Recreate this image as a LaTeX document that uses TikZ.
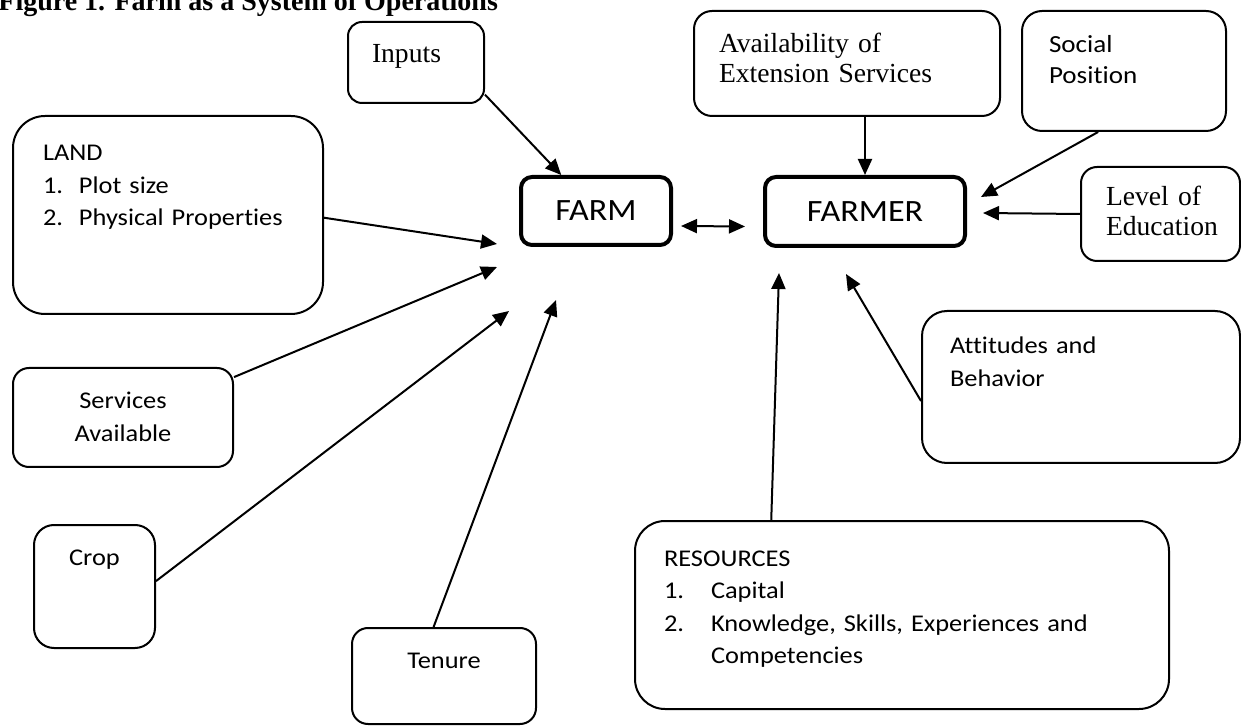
\documentclass[tikz,border=0pt]{standalone}
\usepackage{fontspec}
\setmainfont{Liberation Serif}
\setsansfont{Carlito}[FakeStretch=1.1, Ligatures=NoCommon]
\usetikzlibrary{arrows.meta}
\tikzstyle{block} = [ rectangle, draw, line width=1pt, anchor=north west, inner ysep=0pt, align=left, font=\sffamily\fontsize{12}{16.25}\selectfont]
\tikzstyle{serif} = [ font=\rmfamily\fontsize{13.8}{15}\selectfont]
\tikzstyle{core} = [ rectangle, draw, line width=2pt, rounded corners=5.5pt, inner sep=0pt, font=\sffamily\fontsize{15.5}{18}\selectfont]
\tikzstyle{line} = [ draw, line width=1pt, -{Triangle[length=8pt,width=7pt]}]

\begin{document}
\begin{tikzpicture}[x=0.5pt, y=-0.5pt]
  \useasboundingbox (0,0) rectangle (1241,726);
  \node [anchor=base west, inner sep=0pt, font=\rmfamily\bfseries\fontsize{14}{16}\selectfont] (title) at (-2,10.5) {Figure 1. Farm as a System of Operations};

  \node [core, minimum width=75pt, minimum height=34pt] (farm) at (596,211) {FARM};
  \node [core, minimum width=100pt, minimum height=34.5pt] (farmer) at (865,211.5) {FARMER};

  \node [block, serif, rounded corners=7pt, inner xsep=12pt, text width=44pt, text height=20.5pt, text depth=20pt] (inputs) at (347,21) {Inputs};
  \node [block, rounded corners=16pt, inner xsep=15pt, text width=125pt, text height=22.5pt, text depth=76.5pt] (land) at (12,115) {LAND\\ \makebox[18pt][l]{1.}Plot size\\ \makebox[18pt][l]{2.}Physical Properties};
  \node [block, align=center, rounded corners=8pt, inner xsep=10pt, text width=90pt, text height=20.5pt, text depth=29pt] (services) at (12,367) {Services\\ Available};
  \node [block, align=center, rounded corners=10pt, inner xsep=5pt, text width=50.5pt, text height=20pt, text depth=41.5pt] (crop) at (33,524) {Crop};
  \node [block, align=center, rounded corners=8pt, inner xsep=10pt, text width=72pt, text height=20pt, text depth=28pt] (tenure) at (351,627) {Tenure};

  \node [block, serif, rounded corners=9pt, inner xsep=12.5pt, text width=128pt, text height=21pt, text depth=31.5pt] (avail) at (693,10) {Availability of\\ Extension Services};
  \node [block, rounded corners=10pt, inner xsep=13.5pt, text width=75pt, text height=21pt, text depth=39pt, font=\sffamily\fontsize{12.3}{15.5}\selectfont] (social) at (1021,10) {Social\\ Position};
  \node [block, serif, rounded corners=8pt, inner xsep=12.5pt, text width=54.5pt, text height=19.5pt, text depth=27.5pt] (level) at (1080,166) {Level of\\ Education};
  \node [block, rounded corners=12.5pt, inner xsep=14pt, text width=131pt, text height=21.5pt, text depth=54.5pt] (attitudes) at (921,310) {Attitudes and\\ Behavior};
  \node [block, rounded corners=15pt, inner xsep=14.5pt, text width=238pt, text height=22.5pt, text depth=71.5pt] (resources) at (634,520) {RESOURCES\\ \makebox[23.5pt][l]{1.}Capital\\ \makebox[23.5pt][l]{2.}Knowledge, Skills, Experiences and\\ \hspace*{23.5pt}Competencies};

  \coordinate (in_land) at (497,244);
  \coordinate (in_services) at (497,267);
  \coordinate (in_crop) at (509,311);
  \coordinate (in_tenure) at (556,300);
  \coordinate (in_social) at (981,197);
  \coordinate (in_level) at (983,213);
  \coordinate (in_resources) at (779,273);
  \coordinate (in_attitudes) at (846,274);

  \path [line] (inputs.-25) -- (farm.134);
  \path [line] (land.-1.5) -- (in_land);
  \path [line] (services.20) -- (in_services);
  \path [line] (crop.5) -- (in_crop);
  \path [line] (tenure.102) -- (in_tenure);

  \path [line] (avail.south -| farmer.north) -- (farmer.north);
  \path [line] (social.247) -- (in_social);
  \path [line] (level.west) -- (in_level);
  \path [line] (resources.144) -- (in_resources);
  \path [line] (attitudes.185) -- (in_attitudes);

  \path [line, {Triangle[length=8pt,width=7pt]}-{Triangle[length=8pt,width=7pt]}] ([xshift=4pt,yshift=-7.5pt]farm.east) -- ([xshift=-9pt,yshift=-7.5pt]farmer.west);
\end{tikzpicture}
\end{document}
